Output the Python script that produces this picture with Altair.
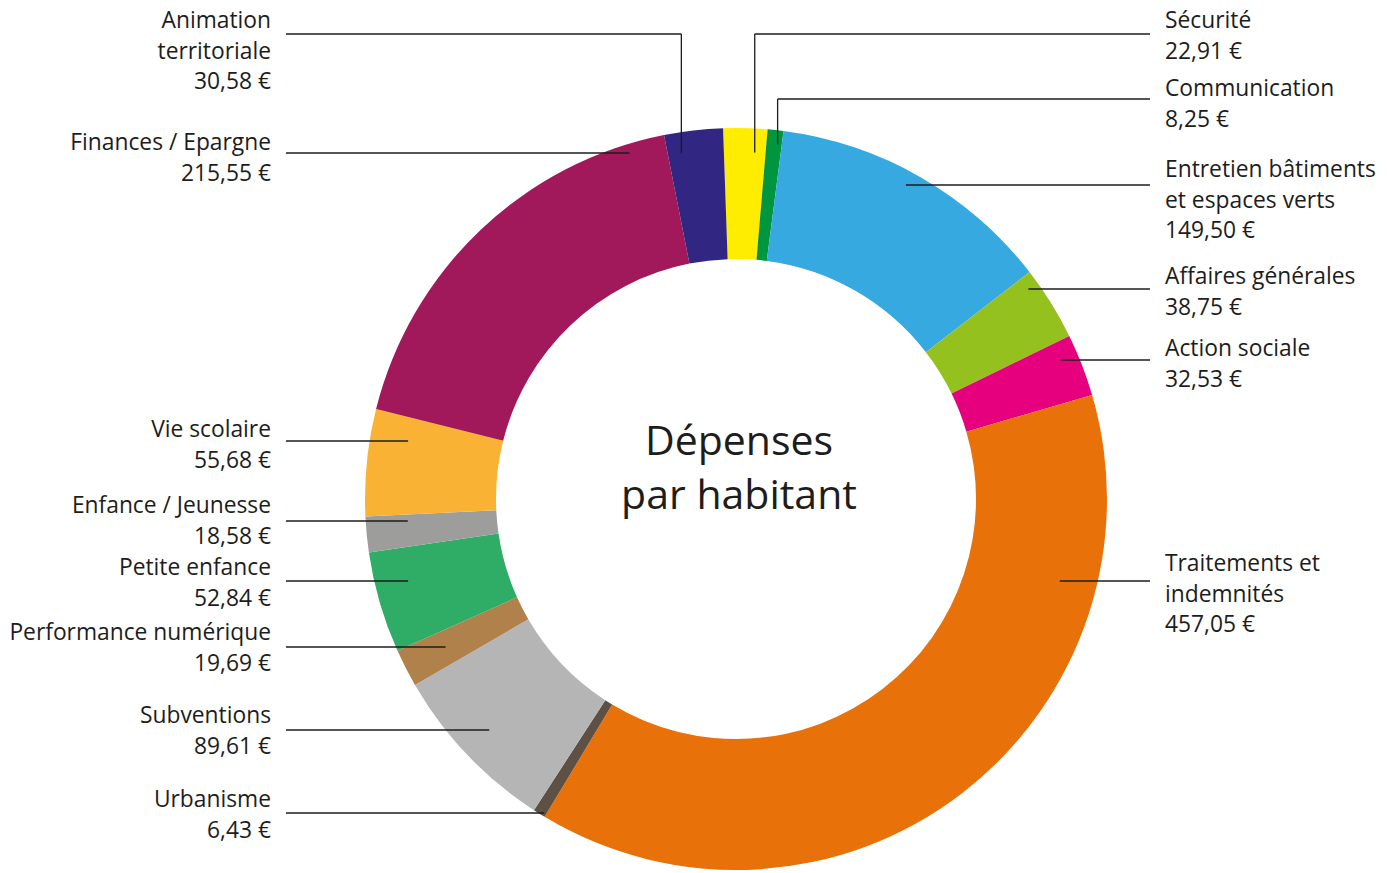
import math
import altair as alt
import pandas as pd

# ---------------- data ----------------
categories = [
    "Sécurité", "Communication", "Entretien bâtiments et espaces verts",
    "Affaires générales", "Action sociale", "Traitements et indemnités",
    "Urbanisme", "Subventions", "Performance numérique", "Petite enfance",
    "Enfance / Jeunesse", "Vie scolaire", "Finances / Epargne",
    "Animation territoriale",
]
values = [22.91, 8.25, 149.50, 38.75, 32.53, 457.05, 6.43, 89.61, 19.69,
          52.84, 18.58, 55.68, 215.55, 30.58]
colors = ["#FFED00", "#009640", "#36A9E1", "#95C11F", "#E6007E", "#E8710A",
          "#5E5045", "#B5B5B5", "#B0814B", "#2FAC66", "#9D9D9C", "#F9B233",
          "#A2195B", "#312783"]
label_lines = [
    ["Sécurité"], ["Communication"], ["Entretien bâtiments", "et espaces verts"],
    ["Affaires générales"], ["Action sociale"], ["Traitements et", "indemnités"],
    ["Urbanisme"], ["Subventions"], ["Performance numérique"], ["Petite enfance"],
    ["Enfance / Jeunesse"], ["Vie scolaire"], ["Finances / Epargne"],
    ["Animation", "territoriale"],
]
center_title = ["Dépenses", "par habitant"]

# ---------------- layout (page pixels) ----------------
MARGIN = 8
CX, CY = 736, 499
R_OUT, R_IN = 371, 240
START_DEG = -2.0
side = ["right"] * 6 + ["left"] * 8
text_baseline = [28, 96, 177, 284, 356, 571, 807, 723, 640, 575, 513, 437, 150, 28]
leader_y = [34, 99, 185, 289, 360, 581, 813, 730, 647, 581, 521, 441, 153, 34]
anchor_r = [347, 357, 357, 360, 353, 334, 368, 338, 326, 338, 329, 333, 362, 350]
bent_frac = {0: 0.74, 1: 0.73, 13: 0.24}
LEFT_TEXT_X, RIGHT_TEXT_X = 271, 1165
LEFT_LINE_X, RIGHT_LINE_X = 286, 1150
LINE_STEP = 30.7

FONT = "Open Sans"
INK = "#1d1d1b"

def fmt(v):
    return f"{v:.2f}".replace(".", ",") + " €"

total = sum(values)
df = pd.DataFrame({"cat": categories, "value": values, "idx": list(range(len(values)))})

# ---------------- leader lines & labels ----------------
segs = []
texts = []
cum = 0.0
for i, v in enumerate(values):
    a0 = START_DEG + cum / total * 360
    a1 = START_DEG + (cum + v) / total * 360
    cum += v
    ly = leader_y[i]
    if i in bent_frac:
        ang = math.radians(a0 + (a1 - a0) * bent_frac[i])
        ax = CX + anchor_r[i] * math.sin(ang)
        ay = CY - anchor_r[i] * math.cos(ang)
        segs.append(dict(x=ax, y=ay, x2=ax, y2=ly))
    else:
        dy = ly - CY
        dx = math.sqrt(max(anchor_r[i] ** 2 - dy ** 2, 0))
        ax = CX + dx if side[i] == "right" else CX - dx
    end = RIGHT_LINE_X if side[i] == "right" else LEFT_LINE_X
    segs.append(dict(x=ax, y=ly, x2=end, y2=ly))
    lines = label_lines[i] + [fmt(v)]
    tx = RIGHT_TEXT_X if side[i] == "right" else LEFT_TEXT_X
    for k, t in enumerate(lines):
        texts.append(dict(x=tx, y=text_baseline[i] + k * LINE_STEP, t=t, side=side[i]))

seg_df = pd.DataFrame(segs)
for c in ["x", "x2", "y", "y2"]:
    seg_df[c] = seg_df[c] - MARGIN
txt_df = pd.DataFrame(texts)
txt_df["x"] = txt_df["x"] - MARGIN
txt_df["y"] = txt_df["y"] - MARGIN

center_df = pd.DataFrame({
    "t": center_title,
    "x": [739 - MARGIN] * 2,
    "y": [455 - MARGIN, 509 - MARGIN],
})

# ---------------- chart ----------------
arcs = alt.Chart(df).mark_arc(outerRadius=R_OUT, innerRadius=R_IN).encode(
    theta=alt.Theta("value:Q", stack=True,
                    scale=alt.Scale(range=[math.radians(START_DEG), math.radians(START_DEG) + 2 * math.pi])),
    color=alt.Color("cat:N", scale=alt.Scale(domain=categories, range=colors), legend=None),
    order=alt.Order("idx:Q"),
    x=alt.value(CX - MARGIN),
    y=alt.value(CY - MARGIN),
)

rules = alt.Chart(seg_df).mark_rule(color=INK, strokeWidth=1.3).encode(
    x=alt.X("x:Q", scale=None), x2="x2:Q",
    y=alt.Y("y:Q", scale=None), y2="y2:Q",
)

left_txt = alt.Chart(txt_df[txt_df.side == "left"]).mark_text(
    align="right", baseline="alphabetic", font=FONT, fontSize=22.8, color=INK
).encode(x=alt.X("x:Q", scale=None), y=alt.Y("y:Q", scale=None), text="t:N")

right_txt = alt.Chart(txt_df[txt_df.side == "right"]).mark_text(
    align="left", baseline="alphabetic", font=FONT, fontSize=22.8, color=INK
).encode(x=alt.X("x:Q", scale=None), y=alt.Y("y:Q", scale=None), text="t:N")

center_txt = alt.Chart(center_df).mark_text(
    align="center", baseline="alphabetic", font=FONT, fontSize=41, color=INK
).encode(x=alt.X("x:Q", scale=None), y=alt.Y("y:Q", scale=None), text="t:N")

chart = alt.layer(arcs, rules, left_txt, right_txt, center_txt).properties(
    width=1375, height=865, padding=0,
    autosize=alt.AutoSizeParams(type="none"),
    background="white",
).configure_view(stroke=None)

chart.save("out.html", embed_options={"renderer": "svg", "actions": False})
